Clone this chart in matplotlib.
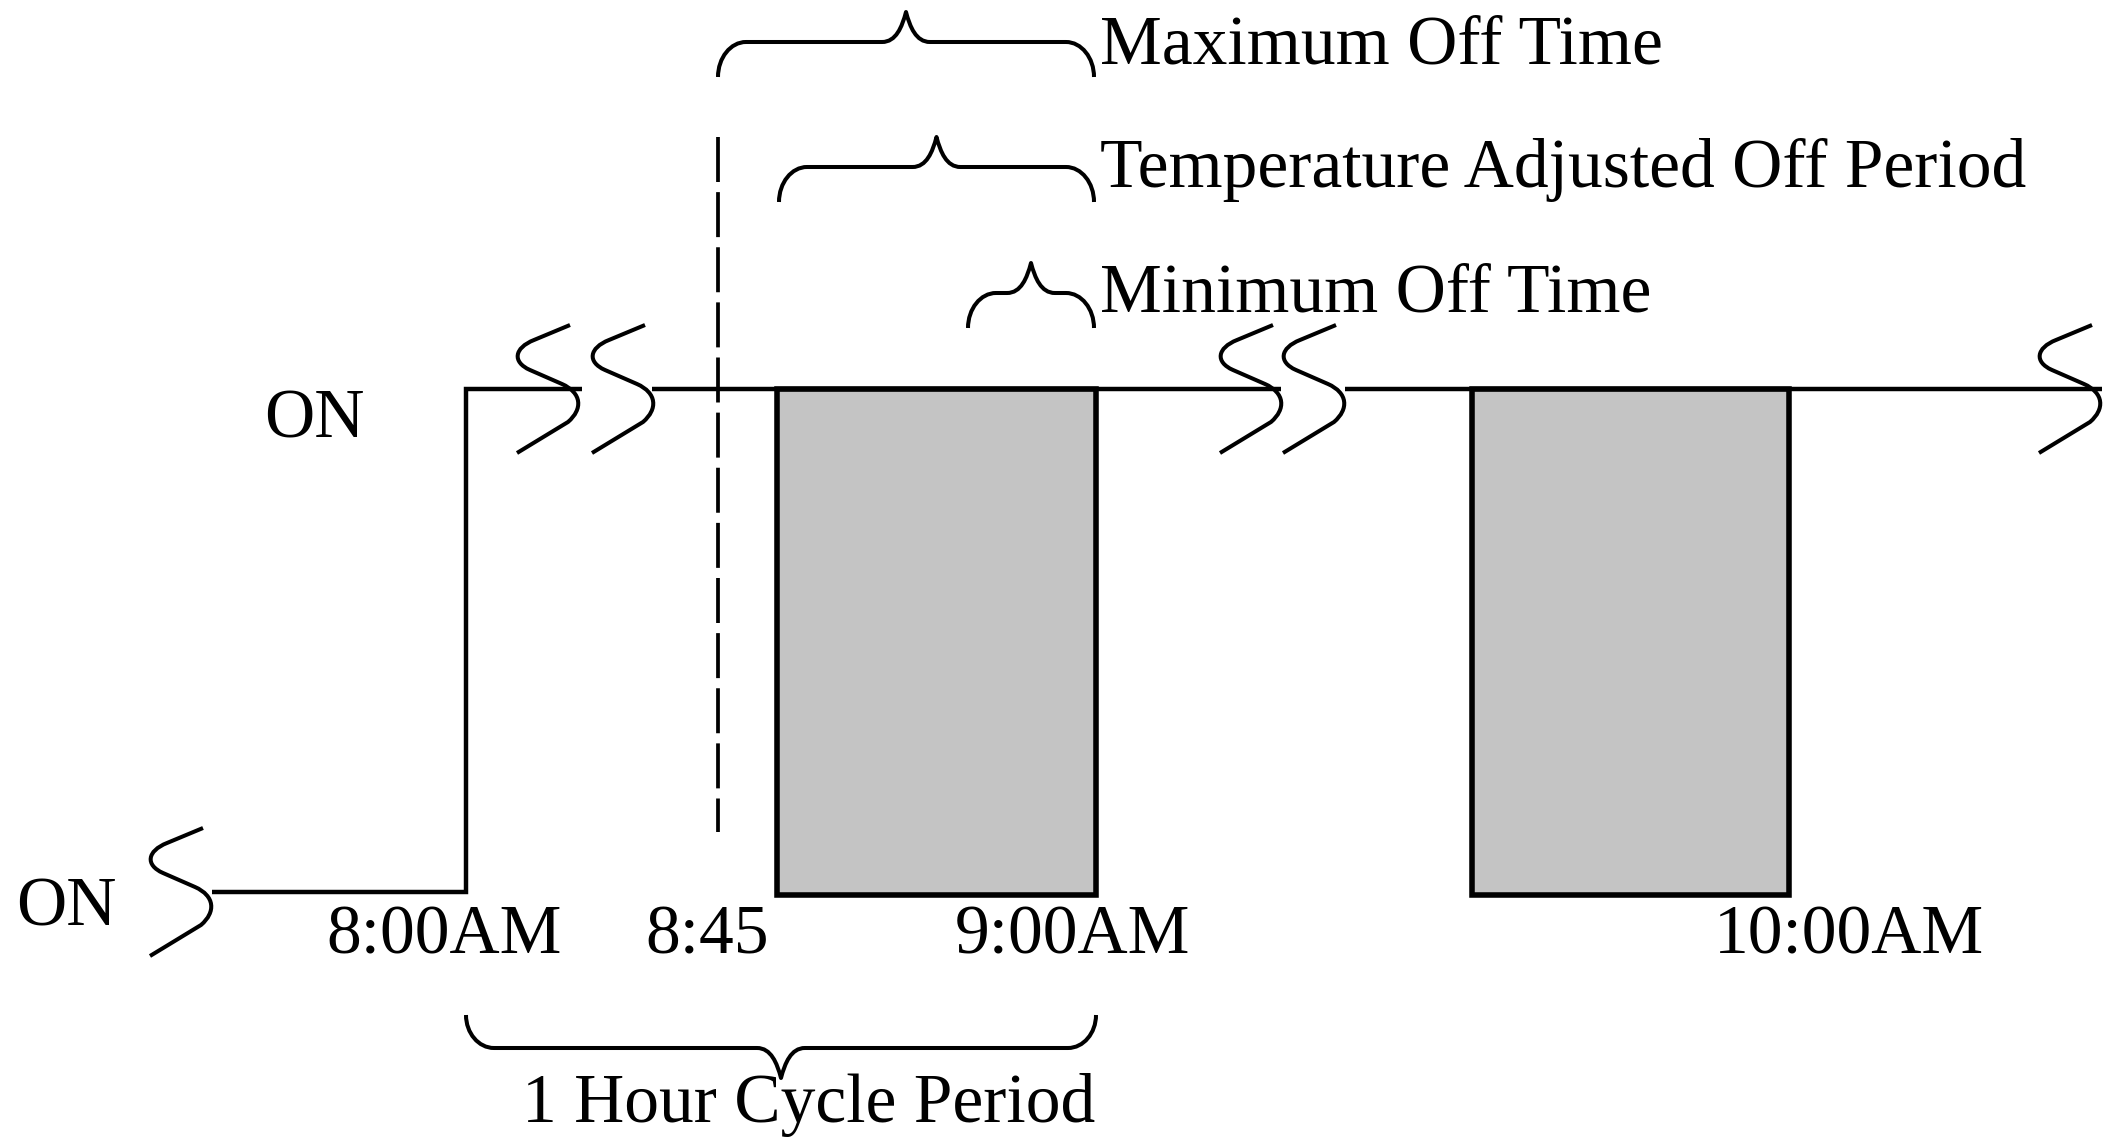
import matplotlib.pyplot as plt
from matplotlib.path import Path
from matplotlib.patches import PathPatch

plt.rcParams['font.family'] = ['Liberation Serif', 'DejaVu Serif']

# ---------------------------
# Diagram data (schematic units, 1 unit = 1 px of the 2111x1137 canvas)
# ---------------------------
on_level = 389          # upper "ON" line
low_level = 892         # lower "ON" line
box_bottom = 895
switch_x = 466          # 8:00AM step
line_start = 212
line_end = 2102

dash_x = 718            # 8:45 marker
dash_span = [137, 832]

off_start = [777, 1472]
off_end = [1096, 1789]

# time-axis breaks: x of each squiggle's top end
break_x = [570, 645, 1273, 1336, 2092]
low_break_x = 203
gap_from = [582, 1281]
gap_to = [652, 1345]

time_labels = ['8:00AM', '8:45', '9:00AM', '10:00AM']
time_label_x = [326, 645, 955, 1714]
time_label_y = 953

brace_names = ['Maximum Off Time', 'Temperature Adjusted Off Period', 'Minimum Off Time']
brace_start = [718, 779, 968]
brace_end = [1094, 1094, 1094]
brace_bar = [42, 167, 293]
brace_text_x = 1100
brace_text_y = [63, 187, 311]

cycle_name = '1 Hour Cycle Period'
cycle_span = [466, 1096]
cycle_bar = 1048

FS = 50


def squiggle(ax, x, ytop):
    # break symbol drawn as a rounded zig-zag "S"
    v = [(0, 0), (-36, 15),
         (-56, 23), (-58, 37), (-40, 45),
         (-8, 59),
         (12, 68), (13, 84), (-2, 97),
         (-53, 128)]
    c = [Path.MOVETO, Path.LINETO,
         Path.CURVE4, Path.CURVE4, Path.CURVE4,
         Path.LINETO,
         Path.CURVE4, Path.CURVE4, Path.CURVE4,
         Path.LINETO]
    pts = [(x + dx, ytop + dy) for dx, dy in v]
    ax.add_patch(PathPatch(Path(pts, c), fill=False, lw=2.9, color='black',
                           capstyle='butt', joinstyle='round', zorder=5))


def brace(ax, x0, x1, ybar, d=1, end=35, tip=30):
    # curly brace, tip pointing to -d, ends pointing to +d (y grows downward)
    xc = (x0 + x1) / 2
    r = 28
    w = 24
    ye = ybar + d * end
    yt = ybar - d * tip
    v = [(x0, ye),
         (x0, ye - d * 0.55 * end), (x0 + 0.45 * r, ybar), (x0 + r, ybar),
         (xc - w, ybar),
         (xc - 10, ybar), (xc - 4, ybar - d * tip * 0.5), (xc, yt),
         (xc + 4, ybar - d * tip * 0.5), (xc + 10, ybar), (xc + w, ybar),
         (x1 - r, ybar),
         (x1 - 0.45 * r, ybar), (x1, ye - d * 0.55 * end), (x1, ye)]
    c = [Path.MOVETO,
         Path.CURVE4, Path.CURVE4, Path.CURVE4,
         Path.LINETO,
         Path.CURVE4, Path.CURVE4, Path.CURVE4,
         Path.CURVE4, Path.CURVE4, Path.CURVE4,
         Path.LINETO,
         Path.CURVE4, Path.CURVE4, Path.CURVE4]
    ax.add_patch(PathPatch(Path(v, c), fill=False, lw=2.9, color='black',
                           capstyle='butt', joinstyle='round', zorder=5))


fig = plt.figure(figsize=(21.11, 11.37), dpi=100)
ax = fig.add_axes([0, 0, 1, 1])
ax.set_xlim(0, 2111)
ax.set_ylim(1137, 0)
ax.axis('off')

# off periods (gray boxes)
widths = [e - s for s, e in zip(off_start, off_end)]
ax.bar(off_start, box_bottom - on_level, width=widths, bottom=on_level, align='edge',
       color='#c4c4c4', edgecolor='black', linewidth=4, zorder=2)

# signal line
lw_main = 3.2
ax.plot([line_start, switch_x, switch_x, gap_from[0]],
        [low_level, low_level, on_level, on_level], color='black', lw=lw_main,
        solid_joinstyle='miter', solid_capstyle='butt', zorder=4)
ax.plot([gap_to[0], gap_from[1]], [on_level, on_level], color='black', lw=lw_main,
        solid_capstyle='butt', zorder=4)
ax.plot([gap_to[1], line_end], [on_level, on_level], color='black', lw=lw_main,
        solid_capstyle='butt', zorder=4)

# break symbols
for bx in break_x:
    squiggle(ax, bx, on_level - 64)
squiggle(ax, low_break_x, low_level - 64)

# 8:45 dashed marker
ax.plot([dash_x, dash_x], dash_span, color='black', lw=2.7,
        linestyle=(0, (12.0, 2.7)), dash_capstyle='butt', zorder=6)

# braces and labels
for name, s, e, yb, ty in zip(brace_names, brace_start, brace_end, brace_bar, brace_text_y):
    brace(ax, s, e, yb, d=1)
    ax.text(brace_text_x, ty, name, fontsize=FS, ha='left', va='baseline')

brace(ax, cycle_span[0], cycle_span[1], cycle_bar, d=-1, end=33, tip=30)
ax.text(522, 1122, cycle_name, fontsize=FS, ha='left', va='baseline')

# ON labels
ax.text(264, 438, 'ON', fontsize=FS, ha='left', va='baseline')
ax.text(16, 926, 'ON', fontsize=FS, ha='left', va='baseline')

# time labels
for lab, x in zip(time_labels, time_label_x):
    ax.text(x, time_label_y, lab, fontsize=FS, ha='left', va='baseline')

fig.savefig('out.png', dpi=100)
